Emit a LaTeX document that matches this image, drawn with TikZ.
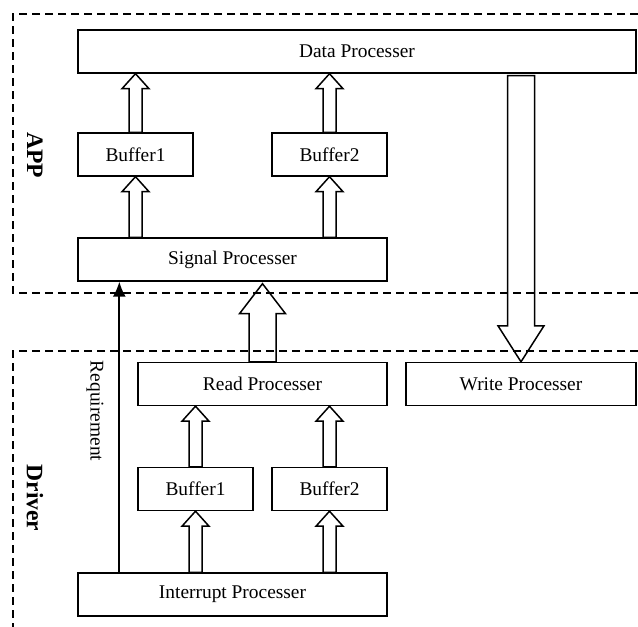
\documentclass[tikz,border=0pt]{standalone}
\usepackage{fontspec}
\setmainfont{Liberation Serif}
\usetikzlibrary{calc,arrows.meta}
\tikzset{box/.style={draw,line width=0.7pt,minimum height=21.5pt,inner sep=0pt,font=\fontsize{9.7}{11}\selectfont},
	layer frame/.style={line width=0.65pt,dash pattern=on 4pt off 2.5pt},
	layer label/.style={rotate=-90,font=\fontsize{11.8}{13}\selectfont\bfseries}}
% hollow block arrow: half shaft, half head, head length, from, to
\newcommand\hollowarrow[5]{%
	\draw[line width=0.75pt] let \p1=(#4), \p2=(#5), \n1={sign(\y2-\y1)}, \n2={\y2-\n1*#3} in
		(\x1-#1,\y1) -- (\x1-#1,\n2) -- (\x1-#2,\n2) -- (\x1,\y2)
		-- (\x1+#2,\n2) -- (\x1+#1,\n2) -- (\x1+#1,\y1) -- cycle;}

\begin{document}
\begin{tikzpicture}[x=0.5pt,y=-0.5pt]
			\useasboundingbox (0,0) rectangle (638,627);
			% layers
			\draw[layer frame] (638,14) -- (13,14) -- (13,293) -- (638,293);
			\draw[layer frame] (638,351) -- (13,351) -- (13,627);
			\node[layer label] (app) at (35,155) {APP};
			\node[layer label] (driver) at (35,498) {Driver};
			% APP
			\node[box,minimum width=279pt] (data) at (357,51.5) {Data Processer};
			\node[box,minimum width=57.5pt] (abuf1) at (135.5,154.5) {Buffer1};
			\node[box,minimum width=57.5pt] (abuf2) at (329.5,154.5) {Buffer2};
			\node[box,minimum width=154.5pt] (sig) at (232.5,259.5) {Signal Processer};
			% Driver
			\node[box,minimum width=124.5pt] (read) at (262.5,384) {Read Processer};
			\node[box,minimum width=115pt] (write) at (521,384) {Write Processer};
			\node[box,minimum width=57.5pt] (dbuf1) at (195.5,489) {Buffer1};
			\node[box,minimum width=57.5pt] (dbuf2) at (329.5,489) {Buffer2};
			\node[box,minimum width=154.5pt] (intr) at (232.5,594.5) {Interrupt Processer};
			% data flow
			\hollowarrow{3.25pt}{6.75pt}{7.5pt}{sig.north -| abuf1}{abuf1.south}
			\hollowarrow{3.25pt}{6.75pt}{7.5pt}{sig.north -| abuf2}{abuf2.south}
			\hollowarrow{3.25pt}{6.75pt}{7.5pt}{abuf1.north}{data.south -| abuf1}
			\hollowarrow{3.25pt}{6.75pt}{7.5pt}{abuf2.north}{data.south -| abuf2}
			\hollowarrow{3.25pt}{6.75pt}{7.5pt}{intr.north -| dbuf1}{dbuf1.south}
			\hollowarrow{3.25pt}{6.75pt}{7.5pt}{intr.north -| dbuf2}{dbuf2.south}
			\hollowarrow{3.25pt}{6.75pt}{7.5pt}{dbuf1.north}{read.south -| dbuf1}
			\hollowarrow{3.25pt}{6.75pt}{7.5pt}{dbuf2.north}{read.south -| dbuf2}
			\hollowarrow{6.75pt}{11.5pt}{15pt}{read.north}{$(sig.south -| read)+(0,2)$}
			\hollowarrow{6.75pt}{11.5pt}{18pt}{$(data.south -| write)+(0,2)$}{write.north}
			% requirement
			\coordinate (req) at ([xshift=21pt]intr.north west);
			\draw[line width=0.9pt,-{Latex[length=7.5pt,width=6.5pt]}] (req) -- (req |- sig.south);
			\node[rotate=-90,font=\fontsize{9.7}{11}\selectfont] (reqlabel) at (95,411) {Requirement};
		\end{tikzpicture}
\end{document}
